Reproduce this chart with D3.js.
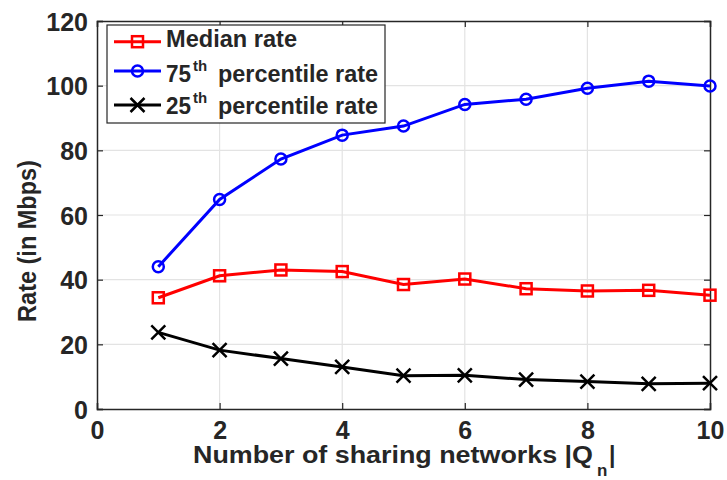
<!DOCTYPE html>
<html><head><meta charset="utf-8">
<script src="https://cdn.jsdelivr.net/npm/d3@7"></script>
<style>body{margin:0;background:#fff}svg{display:block}text{font-family:"Liberation Sans",Arial,sans-serif;font-weight:bold;fill:#262626}</style>
</head><body><svg id="c" width="727" height="480"></svg>
<script>
const xs = [1,2,3,4,5,6,7,8,9,10];
const medianRate = [34.4,41.2,43.0,42.5,38.5,40.2,37.2,36.5,36.7,35.2];
const p75Rate = [44.0,64.8,77.3,84.7,87.5,94.2,95.8,99.2,101.4,99.9];
const p25Rate = [23.7,18.2,15.6,13.0,10.3,10.4,9.1,8.5,7.8,8.0];
const xTicks = [0,2,4,6,8,10];
const yTicks = [0,20,40,60,80,100,120];

const svg = d3.select("#c");
const L=97,R=710,T=21,B=409;
const x = d3.scaleLinear().domain([0,10]).range([L,R]);
const y = d3.scaleLinear().domain([0,120]).range([B,T]);

// grid
svg.append("g").selectAll("line").data(xTicks.slice(1,-1)).join("line")
 .attr("x1",d=>x(d)).attr("x2",d=>x(d)).attr("y1",T).attr("y2",B).attr("stroke","#e3e3e3").attr("stroke-width",1.2);
svg.append("g").selectAll("line").data(yTicks.slice(1,-1)).join("line")
 .attr("y1",d=>y(d)).attr("y2",d=>y(d)).attr("x1",L).attr("x2",R).attr("stroke","#e3e3e3").attr("stroke-width",1.2);

// axes
svg.append("g").attr("class","xa").attr("transform",`translate(0,${B})`).call(d3.axisBottom(x).tickValues(xTicks).tickSize(-6).tickPadding(12));
svg.append("g").attr("class","ya").attr("transform",`translate(${L},0)`).call(d3.axisLeft(y).tickValues(yTicks).tickSize(-6).tickPadding(9));
svg.append("g").attr("transform",`translate(0,${T})`).call(d3.axisTop(x).tickValues(xTicks).tickSize(-6).tickFormat(""));
svg.append("g").attr("transform",`translate(${R},0)`).call(d3.axisRight(y).tickValues(yTicks).tickSize(-6).tickFormat(""));
svg.selectAll(".domain").attr("stroke","#262626").attr("stroke-width",1.5);
svg.selectAll(".tick line").attr("stroke","#262626").attr("stroke-width",1.2);
svg.selectAll(".tick text").style("font-size","25px").style("font-weight","bold").attr("fill","#262626");
svg.selectAll(".ya .tick text").attr("dy","0.36em");

// axis labels
svg.append("text").attr("x",193).attr("y",463).style("font-size","23px")
 .attr("textLength",400).attr("lengthAdjust","spacingAndGlyphs").text("Number of sharing networks |Q");
svg.append("text").attr("x",597).attr("y",476).style("font-size","17px").text("n");
svg.append("text").attr("x",609).attr("y",463).style("font-size","23px").text("|");
svg.append("text").attr("transform","translate(36,241) scale(1.1,1) rotate(-90)").attr("text-anchor","middle").style("font-size","23.5px")
 .text("Rate (in Mbps)");

const line = d3.line().x((d,i)=>x(xs[i])).y(d=>y(d));
function series(data,color,marker){
  const g=svg.append("g");
  g.append("path").datum(data).attr("d",line).attr("fill","none").attr("stroke",color).attr("stroke-width",3);
  data.forEach((v,i)=>drawMarker(g,x(xs[i]),y(v),color,marker));
}
function drawMarker(g,cx,cy,color,m){
  if(m==="s") g.append("rect").attr("x",cx-5.5).attr("y",cy-5.5).attr("width",11).attr("height",11).attr("fill","none").attr("stroke",color).attr("stroke-width",2.5);
  else if(m==="o") g.append("circle").attr("cx",cx).attr("cy",cy).attr("r",5.5).attr("fill","none").attr("stroke",color).attr("stroke-width",2.5);
  else { const s=7; g.append("path").attr("d",`M${cx-s},${cy-s}L${cx+s},${cy+s}M${cx-s},${cy+s}L${cx+s},${cy-s}`).attr("stroke",color).attr("stroke-width",2.5);}
}
series(p25Rate,"#000","x");
series(medianRate,"#ff0000","s");
series(p75Rate,"#0000ff","o");

// legend
const lg = svg.append("g");
lg.append("rect").attr("x",107).attr("y",25).attr("width",278).attr("height",98).attr("fill","#fff").attr("stroke","#262626").attr("stroke-width",1.2);
const legNames=["Median rate","75|th|percentile rate","25|th|percentile rate"];
const legColors=["#ff0000","#0000ff","#000"];
const legMarkers=["s","o","x"];
const lineY=[41.7,71,105], baseY=[47.3,81.7,114];
legNames.forEach((nm,i)=>{
  const cy=lineY[i];
  lg.append("line").attr("x1",114).attr("x2",161).attr("y1",cy).attr("y2",cy).attr("stroke",legColors[i]).attr("stroke-width",3);
  drawMarker(lg,137.5,cy,legColors[i],legMarkers[i]);
  const parts=nm.split("|");
  if(parts.length>1){
    lg.append("text").attr("x",166).attr("y",baseY[i]).style("font-size","23px").attr("fill","#000")
      .attr("textLength",25).attr("lengthAdjust","spacingAndGlyphs").text(parts[0]);
    lg.append("text").attr("x",193).attr("y",baseY[i]-11).style("font-size","15px").attr("fill","#000").text(parts[1]);
    lg.append("text").attr("x",218).attr("y",baseY[i]).style("font-size","23px").attr("fill","#000")
      .attr("textLength",160).attr("lengthAdjust","spacingAndGlyphs").text(parts[2]);
  } else lg.append("text").attr("x",166).attr("y",baseY[i]).style("font-size","23px").attr("fill","#000")
      .attr("textLength",131).attr("lengthAdjust","spacingAndGlyphs").text(nm);
});
</script></body></html>
